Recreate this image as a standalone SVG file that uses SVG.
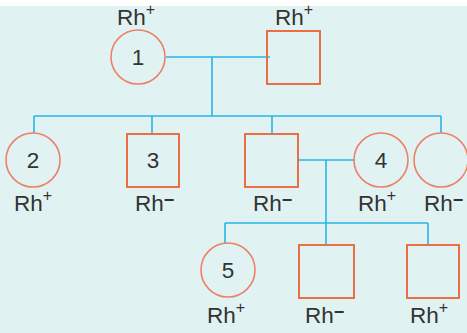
<svg xmlns="http://www.w3.org/2000/svg" width="467" height="333" viewBox="0 0 467 333">
<style>
.c{fill:none;stroke:#ee8068;stroke-width:1.6}
.s{fill:none;stroke:#ec6e45;stroke-width:2}
.l{fill:none;stroke:#2ab4e8;stroke-width:1.6}
text{font-family:"Liberation Sans",Arial,sans-serif;fill:#333;font-size:22.5px}
.n{text-anchor:middle}
.sp{font-size:16px}
.mn{font-size:18px;font-weight:bold}
</style>
<rect x="0" y="0" width="467" height="333" fill="#ffffff"/>
<rect x="0" y="6" width="467" height="327" fill="#e1f2f2"/>
<g id="connectors">
<path class="l" d="M166 57H270M212 57V116M34 116H441M34 116V133M152 116V134M272 116V134M441 116V133"/>
<path class="l" d="M298 160H354M326 160V245M225 223H428M225 223V243M428 223V245"/>
</g>
<g id="n1"><circle class="c" cx="138" cy="57" r="27"/><text class="n" x="138" y="65">1</text><text x="117" y="25">Rh<tspan class="sp" dy="-10">+</tspan></text></g>
<g id="n1m"><rect class="s" x="267" y="31" width="53" height="53"/><text x="275" y="25">Rh<tspan class="sp" dy="-10">+</tspan></text></g>
<g id="n2"><circle class="c" cx="33" cy="160" r="27"/><text class="n" x="33" y="168">2</text><text x="14" y="211">Rh<tspan class="sp" dy="-10">+</tspan></text></g>
<g id="n3"><rect class="s" x="127" y="134" width="52" height="53"/><text class="n" x="153" y="168">3</text><text x="135" y="211">Rh<tspan class="mn" dy="-5">−</tspan></text></g>
<g id="n3b"><rect class="s" x="245" y="134" width="53" height="53"/><text x="253" y="211">Rh<tspan class="mn" dy="-5">−</tspan></text></g>
<g id="n4"><circle class="c" cx="381" cy="160" r="27"/><text class="n" x="381" y="168">4</text><text x="358" y="211">Rh<tspan class="sp" dy="-10">+</tspan></text></g>
<g id="n4b"><circle class="c" cx="441" cy="160" r="27"/><text x="424" y="211">Rh<tspan class="mn" dy="-5">−</tspan></text></g>
<g id="n5"><circle class="c" cx="228" cy="270" r="27"/><text class="n" x="228" y="278">5</text><text x="207" y="323">Rh<tspan class="sp" dy="-10">+</tspan></text></g>
<g id="n6"><rect class="s" x="299" y="245" width="55" height="53"/><text x="305" y="323">Rh<tspan class="mn" dy="-5">−</tspan></text></g>
<g id="n7"><rect class="s" x="407" y="245" width="52" height="53"/><text x="410" y="323">Rh<tspan class="sp" dy="-10">+</tspan></text></g>
</svg>
